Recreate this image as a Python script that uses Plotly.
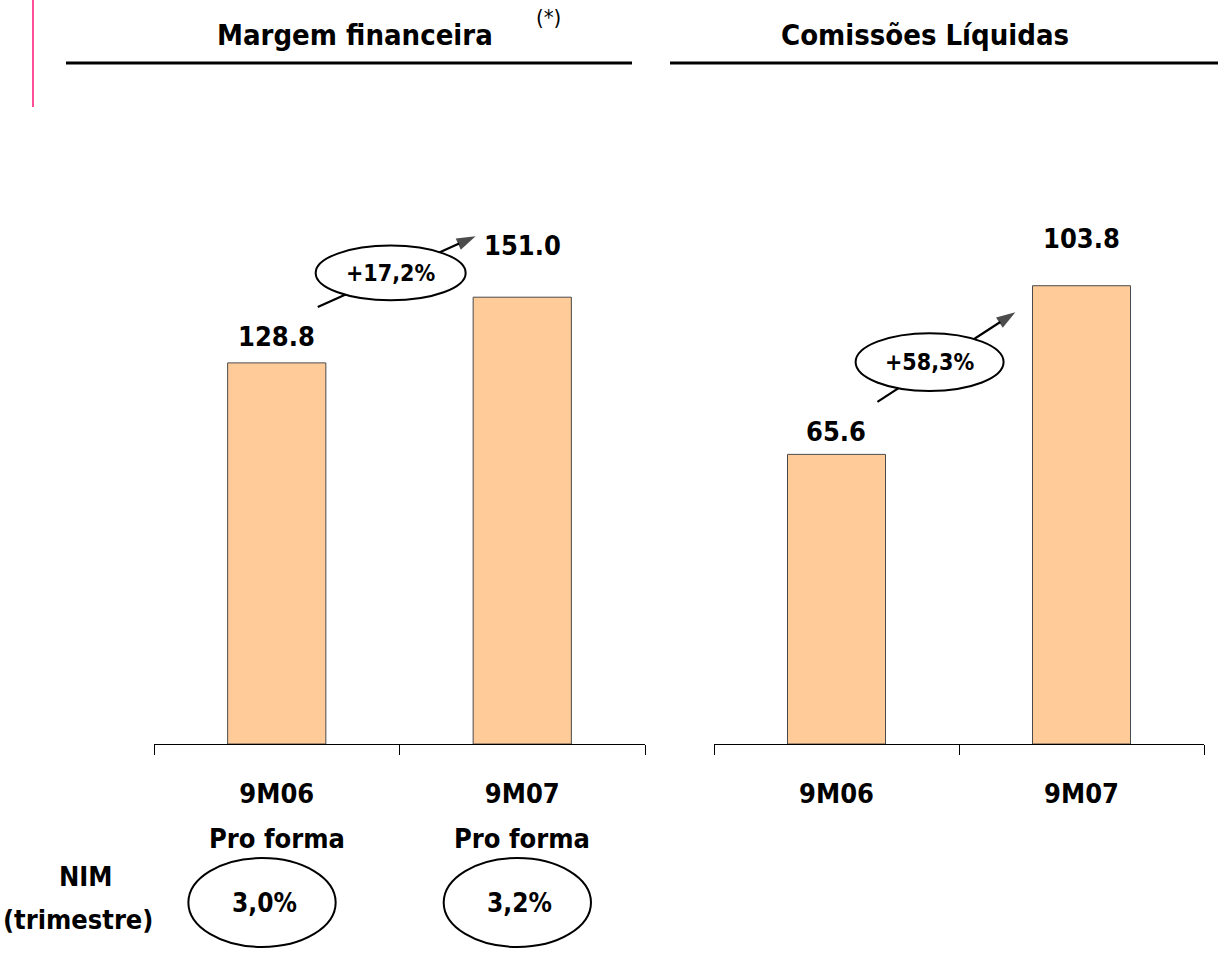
import plotly.graph_objects as go

# --- data -------------------------------------------------------------
periods_left = ["9M06", "9M07"]
period_note_left = ["Pro forma", "Pro forma"]
margem_financeira = [128.8, 151.0]

periods_right = ["9M06", "9M07"]
comissoes_liquidas = [65.6, 103.8]

growth_left = "+17,2%"
growth_right = "+58,3%"

nim_labels = ["3,0%", "3,2%"]

# --- styling ----------------------------------------------------------
FONT = "DejaVu Sans Condensed, DejaVu Sans, sans-serif"
BAR_FILL = "#FFCC99"
BAR_EDGE = "#4a4a4a"
W, H = 1218, 954

fig = go.Figure()

pos = [0, 1]

fig.add_trace(go.Bar(
    x=pos, y=margem_financeira, width=0.4,
    marker=dict(color=BAR_FILL, line=dict(color=BAR_EDGE, width=1)),
    xaxis="x", yaxis="y", showlegend=False, hoverinfo="skip",
))
fig.add_trace(go.Bar(
    x=pos, y=comissoes_liquidas, width=0.4,
    marker=dict(color=BAR_FILL, line=dict(color=BAR_EDGE, width=1)),
    xaxis="x2", yaxis="y2", showlegend=False, hoverinfo="skip",
))

# growth arrows: from above the first bar towards the second one
def growth_arrow(vals, xa, ya, start, end):
    fig.add_trace(go.Scatter(
        x=[start[0], end[0]],
        y=[vals[0] + start[1], vals[1] + end[1]],
        mode="lines+markers",
        line=dict(color="#000000", width=2.2),
        marker=dict(symbol="arrow", size=[0, 20], angleref="previous",
                    color="#000000", line=dict(width=0, color="#000000")),
        xaxis=xa, yaxis=ya, showlegend=False, hoverinfo="skip",
        cliponaxis=False,
    ))

growth_arrow(margem_financeira, "x", "y", (0.167, 18.9), (0.81, 20.6))
growth_arrow(comissoes_liquidas, "x2", "y2", (0.167, 11.9), (0.73, -6.0))

shapes = []
annotations = []

# growth ellipses with white fill, sitting on top of the arrows
def growth_bubble(xref, yref, cx, cy, w, h, text):
    shapes.append(dict(type="circle", xref=xref, yref=yref,
                       x0=cx - w / 2, x1=cx + w / 2, y0=cy - h / 2, y1=cy + h / 2,
                       fillcolor="white", line=dict(color="black", width=2),
                       layer="above"))
    annotations.append(dict(x=cx, y=cy, xref=xref, yref=yref, text=text,
                            showarrow=False, xanchor="center", yanchor="middle",
                            font=dict(family=FONT, size=23, color="black", weight="bold")))

growth_bubble("x", "y", 0.464, (margem_financeira[0] + margem_financeira[1]) / 2 + 19.3,
              0.611, 18.5, growth_left)
growth_bubble("x2", "y2", 0.38, (comissoes_liquidas[0] + comissoes_liquidas[1]) / 2 + 1.8,
              0.604, 13.1, growth_right)

# value labels above the bars
label_shift = {("y", 0): 26, ("y", 1): 52, ("y2", 0): 23, ("y2", 1): 47}
for ya, xa, vals in (("y", "x", margem_financeira), ("y2", "x2", comissoes_liquidas)):
    for i, v in enumerate(vals):
        annotations.append(dict(x=i, y=v, xref=xa, yref=ya, text=f"{v:.1f}",
                                showarrow=False, xanchor="center", yanchor="middle",
                                yshift=label_shift[(ya, i)],
                                font=dict(family=FONT, size=27, color="black", weight="bold")))

# second line of the left category labels
for i, t in enumerate(period_note_left):
    annotations.append(dict(x=i, y=1 - 838 / H, xref="x", yref="paper", text=t,
                            showarrow=False, xanchor="center", yanchor="middle",
                            font=dict(family=FONT, size=27, color="black", weight="bold")))

# NIM row below the left chart
nim_centers = [-0.06, -0.02]
for i, t in enumerate(nim_labels):
    cx = i + nim_centers[i]
    shapes.append(dict(type="circle", xref="x", yref="paper",
                       x0=cx - 0.30, x1=cx + 0.30,
                       y0=1 - 947 / H, y1=1 - 858 / H,
                       fillcolor="white", line=dict(color="black", width=2)))
    annotations.append(dict(x=cx + 0.01, y=1 - 903 / H, xref="x", yref="paper",
                            text=t, showarrow=False, xanchor="center", yanchor="middle",
                            font=dict(family=FONT, size=26, color="black", weight="bold")))

annotations.append(dict(x=86 / W, y=1 - 876 / H, xref="paper", yref="paper",
                        text="NIM", showarrow=False,
                        xanchor="center", yanchor="middle",
                        font=dict(family=FONT, size=27, color="black", weight="bold")))
annotations.append(dict(x=78 / W, y=1 - 919 / H, xref="paper", yref="paper",
                        text="(trimestre)", showarrow=False,
                        xanchor="center", yanchor="middle",
                        font=dict(family=FONT, size=27, color="black", weight="bold")))

# section titles
annotations.append(dict(x=355 / W, y=1 - 35 / H, xref="paper", yref="paper",
                        text="Margem financeira", showarrow=False,
                        xanchor="center", yanchor="middle",
                        font=dict(family=FONT, size=29, color="black", weight="bold")))
annotations.append(dict(x=548 / W, y=1 - 17 / H, xref="paper", yref="paper",
                        text="(*)", showarrow=False, xanchor="center", yanchor="middle",
                        font=dict(family=FONT, size=22, color="black")))
annotations.append(dict(x=925 / W, y=1 - 35 / H, xref="paper", yref="paper",
                        text="Comissões Líquidas", showarrow=False,
                        xanchor="center", yanchor="middle",
                        font=dict(family=FONT, size=29, color="black", weight="bold")))

# title rules and the accent bar on the left edge
shapes.append(dict(type="line", xref="paper", yref="paper",
                   x0=66 / W, x1=632 / W, y0=1 - 63 / H, y1=1 - 63 / H,
                   line=dict(color="black", width=3)))
shapes.append(dict(type="line", xref="paper", yref="paper",
                   x0=670 / W, x1=1218 / W, y0=1 - 63 / H, y1=1 - 63 / H,
                   line=dict(color="black", width=3)))
shapes.append(dict(type="line", xref="paper", yref="paper",
                   x0=33 / W, x1=33 / W, y0=1, y1=1 - 107 / H,
                   line=dict(color="#FF4F9A", width=2)))

# --- axes -------------------------------------------------------------
y_bottom = 1 - 744 / H
y_top = 1 - 150 / H

def cat_axis(domain, labels):
    return dict(
        domain=domain, range=[-0.5, 1.5], tickmode="array",
        tickvals=pos, ticktext=labels, ticks="",
        showline=True, linecolor="black", linewidth=1,
        showgrid=False, zeroline=False, fixedrange=True,
        tickfont=dict(family=FONT, size=27, color="black", weight="bold"),
        ticklabelstandoff=26,
        minor=dict(ticks="outside", ticklen=10, tickcolor="black", tickwidth=1,
                   tickmode="array", tickvals=[-0.5, 0.5, 1.5], showgrid=False),
    )

fig.update_layout(
    width=W, height=H, autosize=False,
    margin=dict(l=0, r=0, t=0, b=0),
    paper_bgcolor="white", plot_bgcolor="white",
    xaxis=cat_axis([154 / W, 645 / W], periods_left),
    xaxis2=cat_axis([714 / W, 1204 / W], periods_right),
    yaxis=dict(domain=[y_bottom, y_top], range=[0, 594 / 2.959], visible=False,
               fixedrange=True),
    yaxis2=dict(domain=[y_bottom, y_top], range=[0, 594 / 4.415], visible=False,
                anchor="x2", fixedrange=True),
    shapes=shapes, annotations=annotations,
    showlegend=False,
)
fig.layout.xaxis2.anchor = "y2"
fig.layout.yaxis.anchor = "x"

fig.write_html("out.html")
